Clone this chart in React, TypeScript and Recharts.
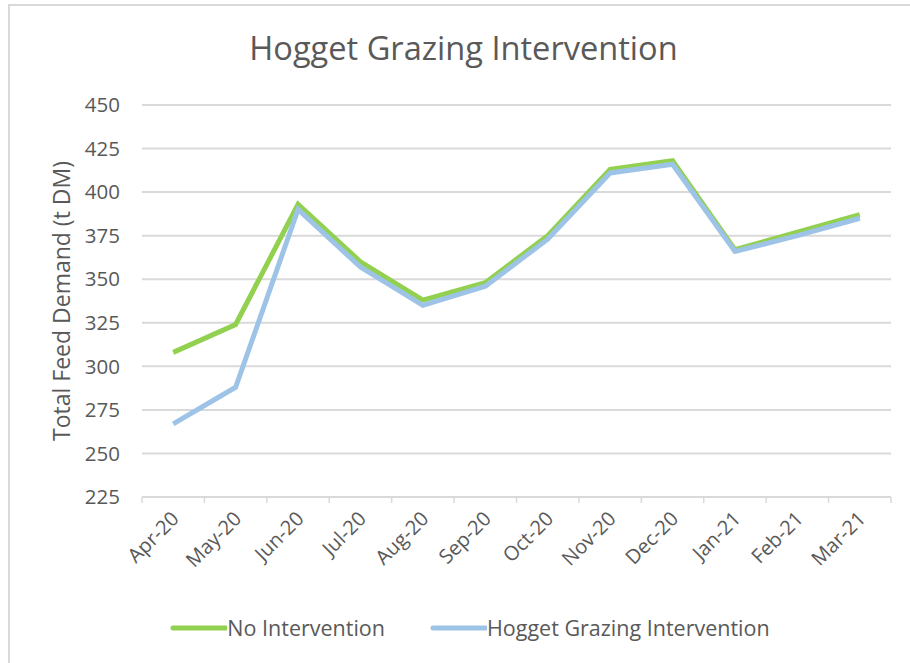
import { LineChart, Line, XAxis, YAxis, CartesianGrid } from "recharts";

const months = [
  "Apr-20", "May-20", "Jun-20", "Jul-20", "Aug-20", "Sep-20",
  "Oct-20", "Nov-20", "Dec-20", "Jan-21", "Feb-21", "Mar-21",
];
const noIntervention = [308, 324, 393, 360, 338, 348, 375, 413, 418, 367, 377, 387];
const hoggetGrazing = [267, 288, 390, 357, 335, 346, 373, 411, 416, 366, 375, 385];
const yTicks = [225, 250, 275, 300, 325, 350, 375, 400, 425, 450];

const data = months.map((m, i) => ({
  month: m,
  none: noIntervention[i],
  hogget: hoggetGrazing[i],
}));

const FONT = "'Open Sans', Lato, sans-serif";
const TEXT = "#595959";
const GRID = "#d9d9d9";
const GREEN = "#92d050";
const BLUE = "#9dc3e6";

const PLOT_LEFT = 142;
const PLOT_RIGHT = 891;
const BAND = (PLOT_RIGHT - PLOT_LEFT) / months.length;

function MonthTick(props: any) {
  const { x, y, payload, index } = props;
  const half = BAND / 2;
  const tx = x + 7;
  const ty = y + 15;
  return (
    <g>
      <line x1={x - half} y1={y - 8} x2={x - half} y2={y - 2} stroke={GRID} strokeWidth={1.5} />
      {index === months.length - 1 && (
        <line x1={x + half} y1={y - 8} x2={x + half} y2={y - 2} stroke={GRID} strokeWidth={1.5} />
      )}
      <text
        x={tx}
        y={ty}
        textAnchor="end"
        fill={TEXT}
        fontSize={20}
        fontFamily={FONT}
        transform={`rotate(-45, ${tx}, ${ty})`}
      >
        {payload.value}
      </text>
    </g>
  );
}

function ChartLegend() {
  const items = [
    { label: "No Intervention", color: GREEN },
    { label: "Hogget Grazing Intervention", color: BLUE },
  ];
  return (
    <div
      style={{
        position: "absolute",
        top: 613,
        left: 0,
        width: 940,
        display: "flex",
        justifyContent: "center",
        gap: 45,
        fontFamily: FONT,
      }}
    >
      {items.map((it) => (
        <div key={it.label} style={{ display: "flex", alignItems: "center" }}>
          <svg width={57} height={10}>
            <line x1={3} y1={5} x2={56} y2={5} stroke={it.color} strokeWidth={5} strokeLinecap="round" />
          </svg>
          <span style={{ fontSize: 21.5, color: TEXT }}>{it.label}</span>
        </div>
      ))}
    </div>
  );
}

export default function App() {
  return (
    <div style={{ position: "absolute", left: 0, top: 0, width: 910, height: 663, background: "#fff" }}>
      <div
        style={{
          position: "absolute",
          left: 8,
          top: 4,
          right: 0,
          bottom: 0,
          borderTop: `2px solid ${GRID}`,
          borderLeft: `2px solid ${GRID}`,
        }}
      />
      <div
        style={{
          position: "absolute",
          top: 25,
          left: 0,
          width: 927,
          textAlign: "center",
          fontFamily: FONT,
          fontSize: 32.6,
          color: TEXT,
        }}
      >
        Hogget Grazing Intervention
      </div>
      <LineChart
        width={910}
        height={663}
        data={data}
        margin={{ top: 105, right: 910 - PLOT_RIGHT, left: 0, bottom: 96 }}
        style={{ position: "absolute", left: 0, top: 0 }}
      >
        <CartesianGrid vertical={false} stroke={GRID} strokeWidth={2} />
        <XAxis
          dataKey="month"
          tickLine={false}
          axisLine={{ stroke: GRID, strokeWidth: 2 }}
          tick={<MonthTick />}
          interval={0}
          height={70}
          padding={{ left: BAND / 2, right: BAND / 2 }}
        />
        <YAxis
          width={PLOT_LEFT}
          domain={[225, 450]}
          ticks={yTicks}
          axisLine={false}
          tickLine={false}
          tickMargin={16}
          tick={{ fill: TEXT, fontSize: 20.5, fontFamily: FONT }}
          label={{
            value: "Total Feed Demand (t DM)",
            angle: -90,
            position: "center",
            dx: -9,
            fill: TEXT,
            fontSize: 23,
            fontFamily: FONT,
          }}
        />
        <Line
          dataKey="none"
          name="No Intervention"
          stroke={GREEN}
          strokeWidth={5}
          dot={false}
          isAnimationActive={false}
        />
        <Line
          dataKey="hogget"
          name="Hogget Grazing Intervention"
          stroke={BLUE}
          strokeWidth={5}
          dot={false}
          isAnimationActive={false}
        />
      </LineChart>
      <ChartLegend />
    </div>
  );
}
